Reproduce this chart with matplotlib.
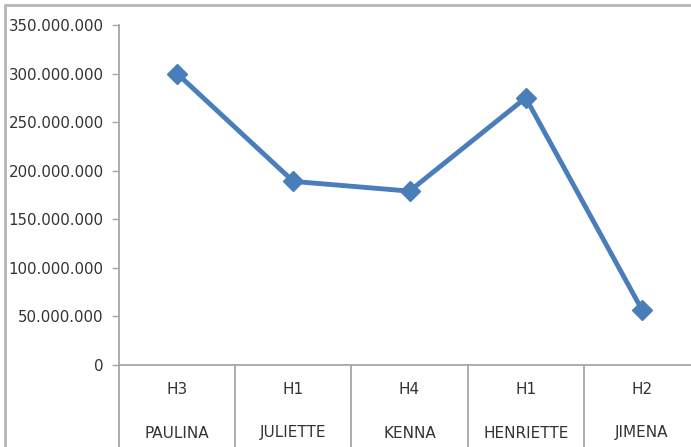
import matplotlib
matplotlib.use('Agg')
import matplotlib.pyplot as plt
from matplotlib.patches import Rectangle
from matplotlib.ticker import FuncFormatter, MultipleLocator
from matplotlib.transforms import blended_transform_factory

# --- data ---
names = ["PAULINA", "JULIETTE", "KENNA", "HENRIETTE", "JIMENA"]
groups = ["H3", "H1", "H4", "H1", "H2"]
values = [300_000_000, 189_000_000, 179_000_000, 275_000_000, 57_000_000]

W, H = 691, 447
line_blue = '#4A7EBB'
axis_gray = '#A6A6A6'
text_col = '#333333'

fig = plt.figure(figsize=(W / 100, H / 100), dpi=100)
# plot area in pixels: x 119..700 (cut by the image edge), y 25..365
ax = fig.add_axes([119 / W, 1 - 365 / H, 581 / W, 340 / H])

x = list(range(len(names)))
ax.plot(x, values, color=line_blue, lw=3.5, marker='D', ms=10.5,
        mfc=line_blue, mec=line_blue, solid_joinstyle='round')

ax.set_xlim(-0.5, len(names) - 0.5)
ax.set_ylim(0, 350_000_000)
ax.yaxis.set_major_locator(MultipleLocator(50_000_000))
ax.yaxis.set_major_formatter(FuncFormatter(lambda v, p: f"{v:,.0f}".replace(",", ".")))

for s in ['top', 'right']:
    ax.spines[s].set_visible(False)
for s in ['left', 'bottom']:
    ax.spines[s].set_color(axis_gray)
    ax.spines[s].set_linewidth(1.3)

ax.tick_params(axis='y', length=5, width=1, color=axis_gray, labelcolor=text_col,
               labelsize=10.8, pad=6)
ax.set_xticks([])

# two-level category axis
trans = blended_transform_factory(ax.transData, ax.transAxes)
for i in range(len(names) + 1):
    ax.plot([i - 0.5, i - 0.5], [0, -0.3], transform=trans, color=axis_gray,
            lw=1.3, clip_on=False)
for i, (g, n) in enumerate(zip(groups, names)):
    ax.text(i, -25 / 340, g, transform=trans, ha='center', va='center',
            fontsize=11, color=text_col)
    ax.text(i, -68 / 340, n, transform=trans, ha='center', va='center',
            fontsize=11, color=text_col)

# chart area border (cropped screenshot)
fig.patches.append(Rectangle((5 / W, -0.1), 2, 1 - 5 / H + 0.1,
                             transform=fig.transFigure, fill=False,
                             ec='#B5B5B5', lw=2))

fig.savefig('out.png', dpi=100)
